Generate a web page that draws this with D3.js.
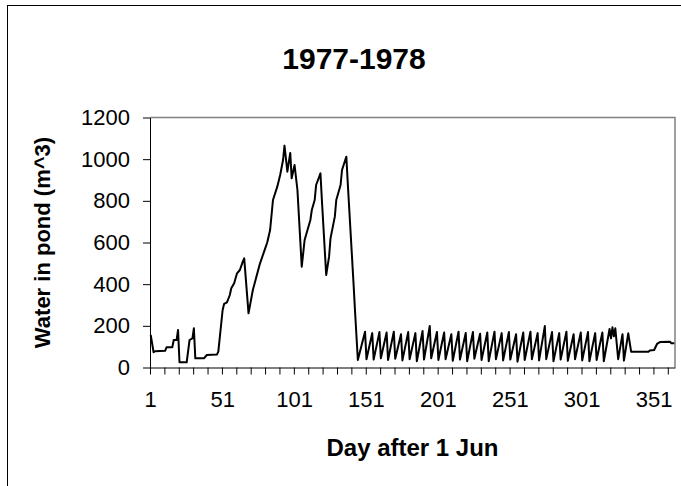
<!DOCTYPE html>
<html>
<head>
<meta charset="utf-8">
<script src="https://cdn.jsdelivr.net/npm/d3@7"></script>
<style>
  body { margin: 0; background: #fff; }
  svg { display: block; font-family: "Liberation Sans", Arial, sans-serif; }
  .axis path, .axis line { stroke: #000; }
  .axis text { font-size: 22px; fill: #000; }
</style>
</head>
<body>
<div id="chart"></div>
<script>
// ---- data ----
var title = "1977-1978";
var xTitle = "Day after 1 Jun";
var yTitle = "Water in pond (m^3)";

var nDays = 365;
var xLabels = [1, 51, 101, 151, 201, 251, 301, 351];
var yTicks = [0, 200, 400, 600, 800, 1000, 1200];

// turning points of the daily series: day, water volume
var waterDays = [1, 3, 4, 11, 12, 16, 17, 19, 20, 21, 26, 28, 30, 31, 32, 38, 40, 47, 48,
    51, 52, 54, 56, 57, 59, 61, 63, 65, 66, 69, 72, 77, 80, 82, 84, 86, 89, 91, 93, 94,
    96, 98, 99, 101, 103, 106, 108, 112, 113, 115, 116, 119, 120, 123, 125, 126, 129, 130,
    133, 134, 137, 138, 142, 143, 145,
    150, 151, 155, 156, 160, 161, 165, 166, 170, 171, 175, 176, 180, 181, 185, 186,
    190, 191, 195, 196, 200, 201, 205, 206, 210, 211, 215, 216, 220, 221, 225, 226,
    230, 231, 235, 236, 240, 241, 245, 246, 250, 251, 255, 256, 260, 261, 265, 266,
    270, 271, 275, 276, 280, 281, 285, 286, 290, 291, 295, 296, 300, 301, 305, 306,
    310, 311, 315, 316, 320, 321, 322, 323, 324, 326, 329, 330, 333, 335,
    347, 348, 351, 353, 355, 362, 363, 365];
var waterValues = [156, 73, 78, 80, 97, 97, 132, 132, 180, 25, 25, 132, 140, 188, 44, 44, 60, 62, 76,
    276, 305, 313, 348, 380, 404, 452, 468, 508, 524, 260, 372, 500, 560, 600, 660, 804, 868, 924, 996, 1065,
    940, 1030, 908, 972, 852, 484, 612, 708, 756, 804, 876, 932, 804, 444, 532, 620, 724, 804,
    876, 948, 1012, 884, 404, 276, 36,
    172, 40, 165, 38, 170, 44, 168, 36, 172, 42, 160, 34, 170, 40, 165, 30,
    175, 38, 199, 44, 170, 36, 168, 40, 160, 32, 172, 38, 166, 30, 170, 42,
    162, 36, 168, 30, 172, 40, 165, 34, 170, 38, 160, 28, 168, 36, 172, 40,
    165, 34, 199, 40, 170, 30, 165, 38, 172, 32, 160, 40, 168, 34, 170, 30,
    165, 36, 168, 30, 185, 140, 193, 150, 188, 40, 160, 33, 164, 76,
    76, 82, 84, 113, 122, 124, 116, 116];

// ---- layout ----
var svg_width = 681, svg_height = 486;
var svg = d3.select("#chart").append("svg")
    .attr("width", svg_width)
    .attr("height", svg_height);

var plot = {left: 150, right: 675, top: 117.5, bottom: 367.5};

// outer chart frame (runs off the page on the right and bottom)
svg.append("rect")
    .attr("x", 7.5).attr("y", 5.5)
    .attr("width", 720).attr("height", 520)
    .attr("fill", "none")
    .attr("stroke", "#000");

var days = d3.range(1, nDays + 1);

var x = d3.scaleBand()
    .domain(days)
    .range([plot.left, plot.right]);

// category boundaries, for the tick marks every 10 days
var xb = d3.scaleLinear()
    .domain([0, nDays])
    .range([plot.left, plot.right]);

var y = d3.scaleLinear()
    .domain([0, 1200])
    .range([plot.bottom, plot.top]);

// plot area border (top and right, grey)
svg.append("path")
    .attr("d", "M" + plot.left + "," + plot.top + "H" + plot.right + "V" + plot.bottom)
    .attr("fill", "none")
    .attr("stroke", "#808080")
    .attr("stroke-width", 1.5);

var points = waterDays.map(function(d, i) { return [d, waterValues[i]]; });

var line = d3.line()
    .x(function(d) { return x(d[0]) + x.bandwidth() / 2; })
    .y(function(d) { return y(d[1]); });

svg.append("path")
    .datum(points)
    .attr("d", line)
    .attr("fill", "none")
    .attr("stroke", "#000")
    .attr("stroke-width", 2)
    .attr("stroke-linejoin", "round");

// y axis
svg.append("g")
    .attr("class", "axis")
    .attr("transform", "translate(" + plot.left + ",0)")
    .call(d3.axisLeft(y).tickValues(yTicks).tickFormat(d3.format("d"))
        .tickSize(7).tickPadding(13).tickSizeOuter(0));

// x axis tick marks
svg.append("g")
    .attr("class", "axis")
    .attr("transform", "translate(0," + plot.bottom + ")")
    .call(d3.axisBottom(xb).tickValues(d3.range(0, nDays + 1, 10)).tickSize(7).tickSizeOuter(0).tickFormat(""));

// x axis labels
var xl = svg.append("g")
    .attr("class", "axis")
    .attr("transform", "translate(0," + plot.bottom + ")")
    .call(d3.axisBottom(x).tickValues(xLabels).tickSize(0).tickPadding(24));
xl.select(".domain").remove();

svg.append("text")
    .attr("x", 354)
    .attr("y", 69)
    .attr("text-anchor", "middle")
    .attr("font-size", 30)
    .attr("font-weight", "bold")
    .text(title);

svg.append("text")
    .attr("x", (plot.left + plot.right) / 2)
    .attr("y", 456)
    .attr("text-anchor", "middle")
    .attr("font-size", 24)
    .attr("font-weight", "bold")
    .text(xTitle);

svg.append("text")
    .attr("transform", "translate(50," + (plot.top + plot.bottom) / 2 + ") rotate(-90)")
    .attr("text-anchor", "middle")
    .attr("font-size", 22)
    .attr("font-weight", "bold")
    .text(yTitle);
</script>
</body>
</html>
